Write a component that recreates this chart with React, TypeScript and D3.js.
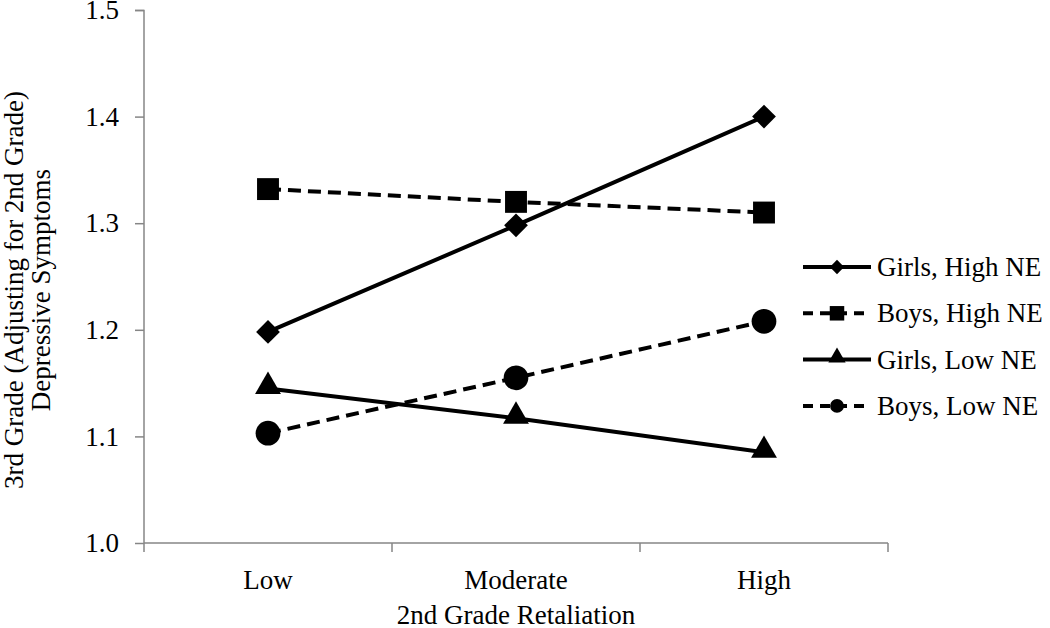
import React, { useEffect, useRef } from 'react';
import * as d3 from 'd3';

const categories = ['Low', 'Moderate', 'High'];
const yTicks = [1.0, 1.1, 1.2, 1.3, 1.4, 1.5];

const girlsHighNE = [1.198, 1.298, 1.400];
const boysHighNE = [1.332, 1.320, 1.310];
const girlsLowNE = [1.145, 1.117, 1.085];
const boysLowNE = [1.103, 1.155, 1.208];

const seriesNames = ['Girls, High NE', 'Boys, High NE', 'Girls, Low NE', 'Boys, Low NE'];
const seriesValues = [girlsHighNE, boysHighNE, girlsLowNE, boysLowNE];
const seriesDashed = [false, true, false, true];
const seriesSymbols = [d3.symbolDiamond2, d3.symbolSquare, d3.symbolTriangle, d3.symbolCircle];
const markerSizes = [360, 480, 290, 480];
const legendMarkerSizes = [130, 210, 130, 150];

const FONT = "'Liberation Serif', 'Times New Roman', 'DejaVu Serif', serif";

export default function App() {
  const ref = useRef<SVGSVGElement>(null);

  useEffect(() => {
    const width = 1050;
    const height = 628;
    const margin = { top: 10, left: 144, right: 162, bottom: 85 };
    const plotW = width - margin.left - margin.right;
    const plotH = height - margin.top - margin.bottom;

    const root = d3.select(ref.current);
    root.selectAll('*').remove();
    root.attr('width', width).attr('height', height)
      .attr('font-family', FONT);

    const svg = root.append('g').attr('transform', `translate(${margin.left},${margin.top})`);

    const xBand = d3.scaleBand().domain(categories).range([0, plotW]).padding(0);
    const xScale = (c: string) => (xBand(c) as number) + xBand.bandwidth() / 2;
    const yScale = d3.scaleLinear().domain([1.0, 1.5]).range([plotH, 0]);

    const axisColor = '#868686';

    // y axis
    const yAxis = svg.append('g')
      .call(d3.axisLeft(yScale).tickValues(yTicks).tickFormat(d3.format('.1f')).tickSize(9).tickPadding(16));
    yAxis.attr('font-family', FONT).attr('font-size', 27);
    yAxis.select('.domain').attr('stroke', axisColor).attr('stroke-width', 1.5).attr('d', `M-9,0.5H0V${plotH}`);
    yAxis.selectAll('.tick line').attr('stroke', axisColor).attr('stroke-width', 1.5);
    yAxis.selectAll('.tick text').attr('fill', '#000');

    // x axis, ticks on the category edges
    const xAxis = svg.append('g').attr('transform', `translate(0,${plotH})`);
    xAxis.append('line').attr('x1', 0).attr('x2', plotW).attr('y1', 0).attr('y2', 0)
      .attr('stroke', axisColor).attr('stroke-width', 1.5);
    const edges = [0, ...categories.map(c => (xBand(c) as number) + xBand.bandwidth())];
    xAxis.selectAll('.edge').data(edges).enter().append('line')
      .attr('x1', d => d).attr('x2', d => d).attr('y1', 0).attr('y2', 9)
      .attr('stroke', axisColor).attr('stroke-width', 1.5);
    xAxis.selectAll('.lab').data(categories).enter().append('text')
      .attr('x', d => xScale(d)).attr('y', 46)
      .attr('text-anchor', 'middle')
      .attr('font-size', 27)
      .text(d => d);

    // axis titles
    svg.append('text')
      .attr('x', plotW / 2).attr('y', plotH + 81)
      .attr('text-anchor', 'middle')
      .attr('font-size', 27)
      .text('2nd Grade Retaliation');

    const yTitle = root.append('text')
      .attr('transform', 'translate(23,290) rotate(-90)')
      .attr('text-anchor', 'middle')
      .attr('font-size', 27);
    yTitle.append('tspan').attr('x', 0).attr('dy', 0).text('3rd Grade (Adjusting for 2nd Grade)');
    yTitle.append('tspan').attr('x', 0).attr('dy', 27).text('Depressive Symptoms');

    const line = d3.line<number>()
      .x((d, i) => xScale(categories[i]))
      .y(d => yScale(d));

    seriesValues.forEach((vals, s) => {
      svg.append('path')
        .datum(vals)
        .attr('fill', 'none')
        .attr('stroke', '#000')
        .attr('stroke-width', 4)
        .attr('stroke-dasharray', seriesDashed[s] ? '13,7' : null)
        .attr('d', line);

      const sym = d3.symbol().type(seriesSymbols[s]).size(markerSizes[s]);
      svg.selectAll(`.m${s}`).data(vals).enter().append('path')
        .attr('transform', (d, i) => `translate(${xScale(categories[i])},${yScale(d) + (s === 2 ? -2 : 0)})`)
        .attr('d', sym() as string)
        .attr('fill', '#000');
    });

    // legend
    const legend = root.append('g').attr('transform', 'translate(803,267)');
    seriesNames.forEach((name, s) => {
      const g = legend.append('g').attr('transform', `translate(0,${s * 46.3})`);
      g.append('line').attr('x1', 0).attr('x2', 68).attr('y1', 0).attr('y2', 0)
        .attr('stroke', '#000').attr('stroke-width', 4)
        .attr('stroke-dasharray', seriesDashed[s] ? '10,7' : null);
      const sym = d3.symbol().type(seriesSymbols[s]).size(legendMarkerSizes[s]);
      g.append('path').attr('transform', `translate(34,${s === 2 ? -2 : 0})`).attr('d', sym() as string).attr('fill', '#000');
      g.append('text').attr('x', 74).attr('y', 0).attr('dy', '0.33em')
        .attr('font-size', 27)
        .text(name);
    });
  }, []);

  return (
    <svg ref={ref} style={{ position: 'absolute', left: 0, top: 0, background: '#fff' }} />
  );
}
